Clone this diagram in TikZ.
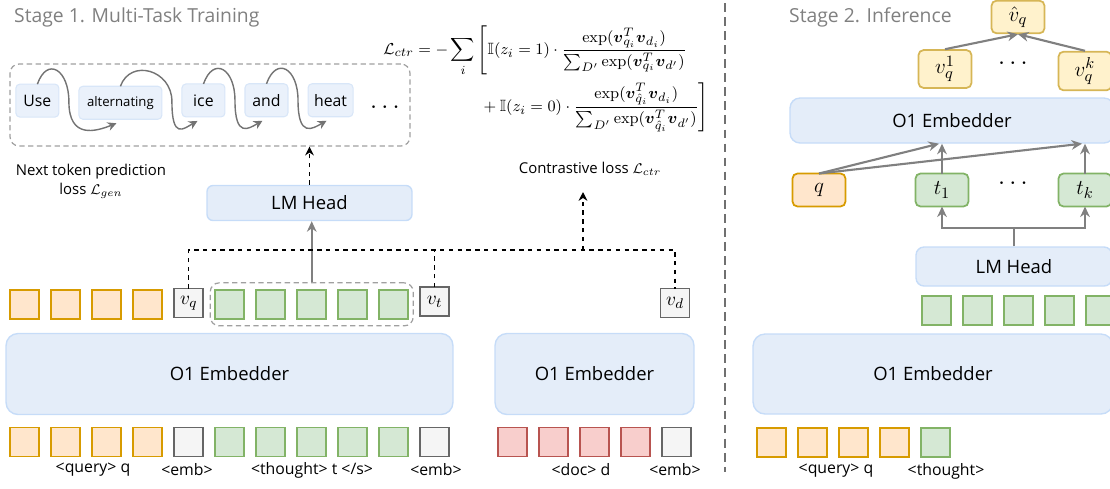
\documentclass[tikz,border=0pt]{standalone}
\usepackage{amsmath}
\usepackage{amssymb}
\usepackage[no-math]{fontspec}
\setmainfont{Open Sans}
\usepackage{xcolor}
\usepackage{tikz}
\usetikzlibrary{matrix,positioning,calc,fit,arrows.meta}
\definecolor{orgfill}{HTML}{FFE6CC}
\definecolor{orgline}{HTML}{D79B00}
\definecolor{grnfill}{HTML}{D5E8D4}
\definecolor{grnline}{HTML}{82B366}
\definecolor{redfill}{HTML}{F8CECC}
\definecolor{redline}{HTML}{B85450}
\definecolor{gryfill}{HTML}{F5F5F5}
\definecolor{gryline}{HTML}{666666}
\definecolor{yelfill}{HTML}{FFF2CC}
\definecolor{yelline}{HTML}{D6B656}
\definecolor{blufill}{HTML}{E4EDF9}
\definecolor{bluline}{HTML}{C6DCF8}
\definecolor{wordfill}{HTML}{EAF1FB}
\definecolor{wordline}{HTML}{D8E6F8}
\definecolor{titlegray}{HTML}{808080}
\definecolor{arrowgray}{HTML}{808080}
\definecolor{grpgray}{HTML}{A0A0A0}
\definecolor{sepgray}{HTML}{707070}

\begin{document}
\begin{tikzpicture}[
    x=0.02cm, y=-0.02cm,
    tok/.style={draw, minimum width=0.58cm, minimum height=0.58cm, inner sep=0pt, outer sep=0pt, line width=1pt},
    orgtok/.style={tok, fill=orgfill, draw=orgline},
    grntok/.style={tok, fill=grnfill, draw=grnline},
    redtok/.style={tok, fill=redfill, draw=redline},
    embtok/.style={tok, fill=gryfill, draw=gryline},
    s2box/.style={rounded corners=0.1cm, minimum width=1.06cm, minimum height=0.66cm, font=\fontsize{13}{15}\selectfont},
    tokrow/.style={matrix of math nodes, column sep=0.205cm, inner sep=0pt, nodes={font=\fontsize{11}{13}\selectfont}},
    block/.style={draw=bluline, fill=blufill, rounded corners=0.24cm, line width=0.8pt, font=\fontsize{10.5}{12}\selectfont},
    word/.style={draw=wordline, fill=wordfill, rounded corners=0.08cm, minimum height=0.66cm, minimum width=0.86cm, inner sep=0pt, outer sep=0pt, line width=0.6pt, font=\fontsize{9}{11}\selectfont},
    vbox/.style={draw=yelline, fill=yelfill, rounded corners=0.1cm, minimum width=1.06cm, minimum height=0.62cm, line width=1pt, font=\fontsize{13}{15}\selectfont},
    grp/.style={draw=grpgray, dash pattern=on 3pt off 2pt, rounded corners=0.18cm, line width=0.7pt},
    lbl/.style={font=\fontsize{9}{11}\selectfont},
    title/.style={text=titlegray, font=\fontsize{11}{13}\selectfont, anchor=west},
    gline/.style={draw=arrowgray, line width=1.2pt},
    garrow/.style={gline, -{Stealth[length=6pt,width=5.5pt]}},
    warrow/.style={draw=arrowgray!90!black, line width=0.8pt, -{Stealth[length=5pt,width=5pt]}},
    dline/.style={draw=black, line width=0.8pt, dash pattern=on 2.5pt off 2.5pt},
    darrow/.style={dline, -{Stealth[length=5pt,width=5pt]}},
    sep/.style={draw=sepgray, line width=1.2pt, dash pattern=on 5pt off 3pt}
    ]
\useasboundingbox (0,0) rectangle (1110,488);

% stage 1
\node[title] (stage1) at (8,17) {Stage 1. Multi-Task Training};

\node[grp, minimum width=8cm, minimum height=1.64cm] (wordgrp) at (210,105) {};
\matrix (words) [matrix of nodes, column sep=0.38cm, inner sep=0pt, nodes={word}, anchor=west] at (15,101.5) {
Use & |[font=\fontsize{7.5}{9}\selectfont, minimum width=1.66cm]| alternating & ice & and & |[minimum width=0.9cm]| heat \\
};
\node[font=\Large] (wdots) at (387,108) {$\cdots$};
\draw[warrow] (words-1-1.north) .. controls +(10,-28) and +(0,-32) .. ($(words-1-1.east)!0.5!(words-1-2.west)$) .. controls +(0,38) and +(-20,8) .. ($(words-1-2.south)+(-4,4)$);
\draw[warrow] (words-1-2.north) .. controls +(10,-28) and +(0,-32) .. ($(words-1-2.east)!0.5!(words-1-3.west)$) .. controls +(0,38) and +(-14,8) .. ($(words-1-3.south)+(-6,4)$);
\draw[warrow] (words-1-3.north) .. controls +(10,-28) and +(0,-32) .. ($(words-1-3.east)!0.5!(words-1-4.west)$) .. controls +(0,38) and +(-14,8) .. ($(words-1-4.south)+(-4,4)$);
\draw[warrow] (words-1-4.north) .. controls +(10,-28) and +(0,-32) .. ($(words-1-4.east)!0.5!(words-1-5.west)$) .. controls +(0,38) and +(-14,8) .. ($(words-1-5.south)+(-4,4)$);

\node[font=\fontsize{9.3}{11}\selectfont] (lossfn) at (546,79) {$\begin{aligned}
\mathcal{L}_{ctr} = -\sum_{i} &\left[\mathbb{I}(z_i=1)\cdot\frac{\exp(\boldsymbol{v}_{q_i}^{T}\boldsymbol{v}_{d_i})}{\sum_{D'}\exp(\boldsymbol{v}_{q_i}^{T}\boldsymbol{v}_{d'})}\right.\\
&\left.{}+\mathbb{I}(z_i=0)\cdot\frac{\exp(\boldsymbol{v}_{\hat{q}_i}^{T}\boldsymbol{v}_{d_i})}{\sum_{D'}\exp(\boldsymbol{v}_{\hat{q}_i}^{T}\boldsymbol{v}_{d'})}\right]
\end{aligned}$};

\node[align=center, font=\fontsize{8.5}{11}\selectfont] (genlbl) at (91,181) {Next token prediction\\loss $\mathcal{L}_{gen}$};
\node[font=\fontsize{8.5}{11}\selectfont] (ctrlbl) at (590,169) {Contrastive loss~$\mathcal{L}_{ctr}$};

\node[block, rounded corners=0.12cm, minimum width=4.1cm, minimum height=0.7cm] (lmh1) at (309.5,203) {LM Head};

\matrix (s1top) [tokrow, anchor=west] at (9,303) {
|[orgtok]| {} & |[orgtok]| {} & |[orgtok]| {} & |[orgtok]| {} & |[embtok]| v_q & |[grntok]| {} & |[grntok]| {} & |[grntok]| {} & |[grntok]| {} & |[grntok]| {} & |[embtok]| v_t \\
};
\node[grp, fit=(s1top-1-6)(s1top-1-10), inner xsep=0.1cm, inner ysep=0.14cm] (thoughtgrp) {};
\node[embtok, font=\fontsize{11}{13}\selectfont] (vd) at (675,303) {$v_d$};

\node[block, minimum width=8.94cm, minimum height=1.62cm] (emb1) at (229.5,374) {O1 Embedder};
\node[block, minimum width=3.98cm, minimum height=1.62cm] (emb2) at (594.5,374) {O1 Embedder};

\matrix (s1bot) [tokrow, anchor=west] at (9,442) {
|[orgtok]| {} & |[orgtok]| {} & |[orgtok]| {} & |[orgtok]| {} & |[embtok]| {} & |[grntok]| {} & |[grntok]| {} & |[grntok]| {} & |[grntok]| {} & |[grntok]| {} & |[embtok]| {} \\
};
\matrix (docbot) [tokrow, anchor=west] at (497,442) {
|[redtok]| {} & |[redtok]| {} & |[redtok]| {} & |[redtok]| {} & |[embtok]| {} \\
};
\node[lbl] (lq1) at (93,470) {<query> q};
\node[lbl] (le1) at (187,470) {<emb>};
\node[lbl] (lt1) at (312,470) {<thought> t </s>};
\node[lbl] (le2) at (436,470) {<emb>};
\node[lbl] (ld) at (581,470) {<doc> d};
\node[lbl] (le3) at (675,470) {<emb>};

\draw[garrow] (thoughtgrp.north) -- (thoughtgrp.north |- lmh1.south);
\draw[darrow] (lmh1.north) -- (lmh1.north |- wordgrp.south);
\coordinate (bus) at (583,250);
\draw[dline] (s1top-1-5.north) |- (bus) -| (vd.north);
\draw[dline] (s1top-1-11.north) -- (s1top-1-11.north |- bus);
\draw[darrow] (bus) -- ++(0,-58);

\draw[sep] (725,3) -- (725,472);

% stage 2
\node[title] (stage2) at (783,17) {Stage 2. Inference};
\node[vbox] (vhat) at (1018,17) {$\hat{v}_q$};
\node[vbox] (vq1) at (945,69) {$v_q^1$};
\node[font=\Large] (vdots) at (1015,64) {$\cdots$};
\node[vbox] (vqk) at (1085,71) {$v_q^k$};
\node[block, rounded corners=0.2cm, minimum width=6.48cm, minimum height=0.9cm] (emb4) at (952,120.5) {O1 Embedder};
\node[orgtok, s2box] (q) at (819,190) {$q$};
\node[grntok, s2box] (t1) at (942,190) {$t_1$};
\node[font=\Large] (tdots) at (1015,184) {$\cdots$};
\node[grntok, s2box] (tk) at (1085,190) {$t_k$};
\node[block, rounded corners=0.16cm, minimum width=3.92cm, minimum height=0.78cm] (lmh2) at (1014,266.5) {LM Head};
\matrix (s2mid) [tokrow, anchor=west] at (921,310.5) {
|[grntok]| {} & |[grntok]| {} & |[grntok]| {} & |[grntok]| {} & |[grntok]| {} \\
};
\node[block, minimum width=7.2cm, minimum height=1.6cm] (emb3) at (933,374) {O1 Embedder};
\matrix (s2bot) [tokrow, anchor=west] at (756,442.5) {
|[orgtok]| {} & |[orgtok]| {} & |[orgtok]| {} & |[orgtok]| {} & |[grntok]| {} \\
};
\node[lbl] (lq2) at (836,471) {<query> q};
\node[lbl] (lth2) at (946,471) {<thought>};

\draw[garrow] (vq1.north) -- (vhat.south);
\draw[garrow] (vqk.north) -- (vhat.south);
\draw[garrow] (q.north) -- ($(t1.north |- emb4.south)+(-3,0)$);
\draw[garrow] (q.north) -- ($(tk.north |- emb4.south)+(-3,0)$);
\draw[garrow] (t1.north) -- (t1.north |- emb4.south);
\draw[garrow] (tk.north) -- (tk.north |- emb4.south);
\coordinate (fork) at ($(lmh2.north)+(0,-18)$);
\draw[gline] (lmh2.north) -- (fork);
\draw[garrow] (fork) -| (t1.south);
\draw[garrow] (fork) -| (tk.south);
\end{tikzpicture}
\end{document}
